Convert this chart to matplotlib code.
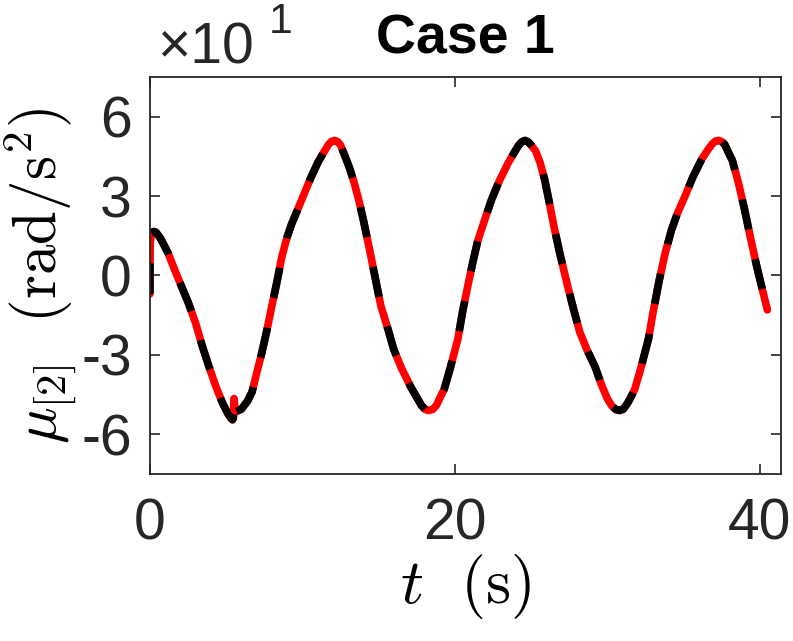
import matplotlib
matplotlib.use("Agg")
import matplotlib.pyplot as plt
from matplotlib.ticker import FixedLocator, FixedFormatter

plt.rcParams['font.family'] = ['Liberation Sans', 'DejaVu Sans']
plt.rcParams['axes.unicode_minus'] = False

# time (s) and mu_[2] (rad/s^2)
t = [0.0, 0.02, 0.1, 0.25, 0.4, 0.7, 1.2, 1.6, 2.1, 2.5, 3.0, 3.4, 3.85, 4.3,
     4.75, 5.1, 5.3, 5.42, 5.47, 5.52, 5.6, 6.0, 6.4, 6.7, 7.0, 7.35, 7.7, 8.0,
     8.35, 8.65, 9.0, 9.3, 9.7, 10.2, 10.6, 11.05, 11.4, 11.7, 11.9, 12.1, 12.3,
     12.5, 12.8, 13.1, 13.4, 13.7, 14.0, 14.4, 14.8, 15.15, 15.6, 16.0, 16.5,
     17.1, 17.5, 17.8, 18.05, 18.3, 18.55, 18.8, 19.0, 19.3, 19.7, 20.2, 20.5,
     20.85, 21.2, 21.5, 21.9, 22.4, 22.9, 23.5, 23.9, 24.2, 24.4, 24.6, 24.8,
     25.0, 25.3, 25.6, 25.9, 26.2, 26.5, 26.9, 27.4, 27.8, 28.2, 28.7, 29.2,
     29.6, 30.0, 30.3, 30.55, 30.8, 31.05, 31.3, 31.5, 31.8, 32.2, 32.7, 33.0,
     33.4, 33.8, 34.2, 34.6, 35.1, 35.6, 36.2, 36.6, 36.9, 37.1, 37.3, 37.5,
     37.7, 37.9, 38.2, 38.6, 39.0, 39.4, 39.8, 40.2, 40.5]
mu_ref = [-7, 12, 16, 16.6, 16.3, 14, 8.4, 2.5, -4.5, -10, -18, -26, -34, -41.5,
          -48, -52, -53.8, -54.5, -54, -46.5, -51.5, -50.5, -47.5, -44, -37, -29,
          -20, -11.5, -2, 7, 14.5, 19.5, 25, 32, 37.5, 43, 46.5, 49.3, 50.6, 51,
          50.6, 49.3, 45, 40.5, 35, 28.5, 21, 10, -1.5, -11.5, -20, -28, -35,
          -42, -46, -49, -50.6, -51, -50.6, -49, -46.5, -43, -35, -24, -14,
          -4, 5.5, 13, 20, 28.5, 35.5, 42.5, 46.5, 49.3, 50.5, 51, 50.5,
          49.3, 47, 42.5, 36, 27.5, 18.5, 8, -4, -13, -21.5, -28.5, -34.5,
          -41, -46.5, -49.3, -50.6, -51, -50.5, -48.5, -46.5, -43, -35, -24, -14,
          -2, 8.5, 17, 23.5, 30, 37, 44, 47.5, 49.8, 50.8, 51, 50.6,
          49.5, 47, 43.5, 35, 25, 14, 3.5, -6, -13]
mu_est = list(mu_ref)

yticks = [-60, -30, 0, 30, 60]
ytick_labels = ['-6', '-3', '0', '3', '6']
xticks = [0, 20, 40]
xtick_labels = ['0', '20', '40']

fig = plt.figure(figsize=(7.93, 6.41), dpi=100)
ax = fig.add_axes([0.189, 0.2605, 0.796, 0.6195])

ax.plot(t, mu_ref, color='red', lw=5.5, solid_capstyle='round', solid_joinstyle='round')
ax.plot(t, mu_est, color='black', lw=5.5, ls='--', dashes=(4, 4),
        dash_joinstyle='round')

ax.set_xlim(0, 41.4)
ax.set_ylim(-75, 75)
ax.xaxis.set_major_locator(FixedLocator(xticks))
ax.xaxis.set_major_formatter(FixedFormatter(xtick_labels))
ax.yaxis.set_major_locator(FixedLocator(yticks))
ax.yaxis.set_major_formatter(FixedFormatter(ytick_labels))

axc = '#262626'
for s in ax.spines.values():
    s.set_color(axc)
    s.set_linewidth(1.3)
ax.tick_params(direction='in', length=7, width=1.2, color=axc, labelsize=41,
               top=True, right=True, labelcolor=axc)
ax.tick_params(axis='x', pad=17)
ax.tick_params(axis='y', pad=13)

ax.set_title('Case 1', fontsize=40, fontweight='bold', pad=17)
ax.set_xlabel(r'$t\ \ (\mathrm{s})$', fontsize=46, math_fontfamily='cm', labelpad=0)
ax.set_ylabel(r'$\mu_{[2]}\ \ (\mathrm{rad/s^2})$', fontsize=44,
              math_fontfamily='cm', labelpad=2)

ax.text(0.012, 1.035, '\u00d710', transform=ax.transAxes, fontsize=41,
        color=axc, ha='left', va='baseline')
ax.text(0.188, 1.11, '1', transform=ax.transAxes, fontsize=31,
        color=axc, ha='left', va='baseline')

fig.savefig('out.png', dpi=100)
